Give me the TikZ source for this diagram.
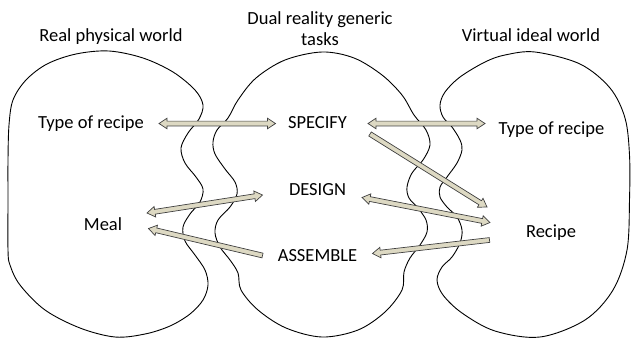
\documentclass[tikz,border=0pt]{standalone}
\usepackage{fontspec}
\setmainfont{Carlito}
\usetikzlibrary{calc}
\definecolor{arrfill}{HTML}{DDD9C3}
\definecolor{arrline}{HTML}{404040}
\def\aw{2.4pt}
\def\aH{5.3pt}
\def\ah{8pt}
\newcommand{\sarr}[2]{%
\draw[barrow] ($(#1)!\aw!90:(#2)$) -- ($(#2)!\ah!(#1)!\aw!90:(#2)$) -- ($(#2)!\ah!(#1)!\aH!90:(#2)$) -- (#2)
 -- ($(#2)!\ah!(#1)!\aH!-90:(#2)$) -- ($(#2)!\ah!(#1)!\aw!-90:(#2)$) -- ($(#1)!\aw!-90:(#2)$) -- cycle;}
\newcommand{\darr}[2]{%
\draw[barrow] (#1) -- ($(#1)!\ah!(#2)!\aH!90:(#2)$) -- ($(#1)!\ah!(#2)!\aw!90:(#2)$) -- ($(#2)!\ah!(#1)!\aw!90:(#2)$) -- ($(#2)!\ah!(#1)!\aH!90:(#2)$) -- (#2)
 -- ($(#2)!\ah!(#1)!\aH!-90:(#2)$) -- ($(#2)!\ah!(#1)!\aw!-90:(#2)$) -- ($(#1)!\ah!(#2)!\aw!-90:(#2)$) -- ($(#1)!\ah!(#2)!\aH!-90:(#2)$) -- cycle;}
\begin{document}
\begin{tikzpicture}[x=1pt,y=-1pt,
  world/.style={draw=black,line width=0.9pt},
  barrow/.style={draw=arrline,fill=arrfill,line width=0.7pt,line join=miter},
  lbl/.style={inner sep=0pt,font=\fontsize{18.5}{21}\selectfont},
  lblb/.style={lbl,anchor=base}]
\useasboundingbox (0,0) rectangle (631,341);
% worlds
\draw[world] plot[smooth cycle,tension=0.55] coordinates {
 (8,250) (8,200) (8,160) (9,125) (13,100) (26,80) (47,64) (76,54) (109,51) (143,58) (173,72) (195,90) (203,105) (199,119) (188,133) (181,148) (185,163) (196,177) (203,189) (200,202) (190,214) (183,227) (185,241) (195,255) (205,270) (208,285) (203,300) (190,314) (170,326) (145,334) (115,337) (80,328) (45,310) (20,285) (10,265)};
\draw[world] plot[smooth cycle,tension=0.55] coordinates {
 (322,52) (354,58) (382,75) (402,95) (414,115) (426,130) (430,145) (423,160) (412,173) (407,187) (409,198) (418,208) (426,220) (427,232) (420,245) (410,258) (404,272) (402,290) (385,312) (358,330) (322,337) (286,328) (258,310) (241,290) (238,273) (230,260) (220,247) (215,233) (218,220) (230,207) (237,194) (235,182) (225,169) (215,154) (213,142) (217,130) (228,118) (238,100) (256,78) (285,60)};
\draw[world] plot[smooth cycle,tension=0.55] coordinates {
 (535,52) (580,64) (610,88) (625,118) (629.5,155) (629.5,200) (627,250) (613,290) (585,320) (540,337) (495,331) (462,313) (443,295) (437,280) (442,267) (452,257) (460,243) (462,230) (457,217) (447,207) (440,197) (440,187) (447,177) (457,163) (462,150) (460,140) (452,127) (443,117) (440,105) (445,92) (460,77) (485,62) (505,55)};
% titles
\node[lblb] (real) at (111,41) {Real physical world};
\node[lbl,align=center] (dual) at (320,28.5) {Dual reality generic\\tasks};
\node[lblb] (virt) at (531,41) {Virtual ideal world};
% labels
\node[lblb] (typeL) at (91,128) {Type of recipe};
\node[lblb] (spec) at (317.5,128) {SPECIFY};
\node[lblb] (typeR) at (551.5,134) {Type of recipe};
\node[lblb] (design) at (317.5,195) {DESIGN};
\node[lblb] (meal) at (103,230) {Meal};
\node[lblb] (assem) at (317.5,261) {ASSEMBLE};
\node[lblb] (recipe) at (551,237) {Recipe};
% arrow end points
\coordinate (a1L) at (159,123.5);
\coordinate (a1R) at (275.5,123.5);
\coordinate (a2L) at (368,123.5);
\coordinate (a2R) at (485,123.5);
\coordinate (s1T) at (370,134);
\coordinate (s1H) at (487,207);
\coordinate (d2L) at (362,197.5);
\coordinate (d2R) at (490,222.5);
\coordinate (r1T) at (489.5,240);
\coordinate (r1H) at (372.5,253.5);
\coordinate (m1L) at (147,213);
\coordinate (m1R) at (262.5,195);
\coordinate (as1T) at (262.5,255.5);
\coordinate (as1H) at (148.5,228.5);
% arrows
\darr{a1L}{a1R}
\darr{a2L}{a2R}
\sarr{s1T}{s1H}
\darr{d2L}{d2R}
\sarr{r1T}{r1H}
\darr{m1L}{m1R}
\sarr{as1T}{as1H}
\end{tikzpicture}
\end{document}
